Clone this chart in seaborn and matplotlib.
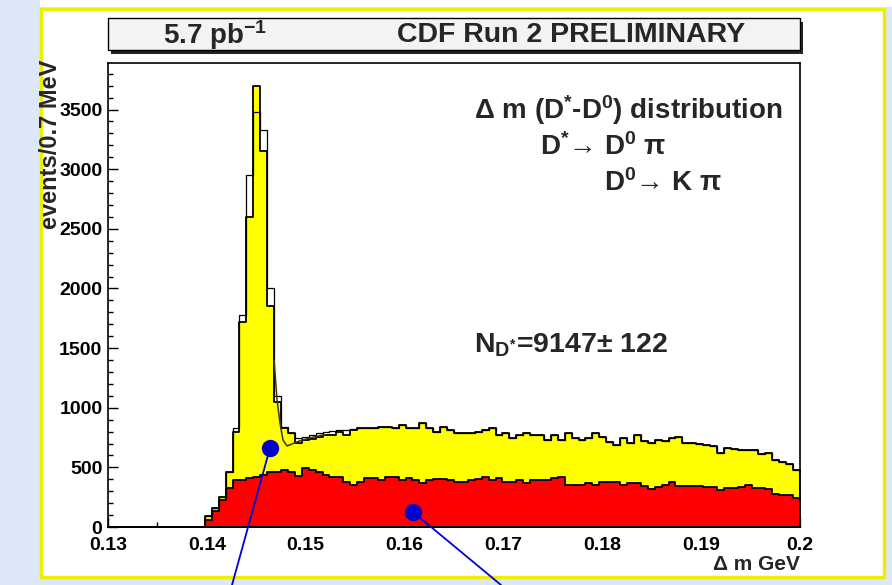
import numpy as np
import pandas as pd
import matplotlib
matplotlib.use("Agg")
import matplotlib.pyplot as plt
from matplotlib.patches import Rectangle
from matplotlib.lines import Line2D
import seaborn as sns

# histogram: 100 bins of 0.7 MeV between 0.13 and 0.2 GeV
n_bins = 100
dm_range = (0.13, 0.2)
bin_edges = np.linspace(dm_range[0], dm_range[1], n_bins + 1)

# right-sign candidates (yellow)
yellow_counts = [0] * 14 + [
    90, 160, 250, 460, 800, 1720, 2600, 3700, 3150, 1850,
    1050, 830, 788, 705, 730, 740, 755, 770, 775, 800,
    772, 814, 828, 828, 830, 842, 835, 828, 856, 828,
    828, 870, 828, 800, 842, 814, 786, 786, 791, 800,
    814, 828, 772, 786, 744, 772, 786, 772, 772, 730,
    772, 730, 791, 744, 730, 744, 791, 758, 716, 688,
    744, 702, 772, 724, 702, 730, 724, 744, 758, 702,
    707, 693, 688, 679, 624, 660, 652, 646, 646, 646,
    613, 624, 560, 545, 525, 480]

# all candidates (open histogram)
white_counts = [0] * 14 + [
    90, 160, 250, 460, 830, 1780, 2950, 3480, 3330, 2000,
    1100, 840, 790, 745, 758, 770, 785, 800, 805, 812,
    815, 820, 828, 828, 830, 842, 835, 828, 856, 828,
    828, 870, 828, 800, 842, 814, 786, 786, 791, 800,
    814, 828, 772, 786, 744, 772, 786, 772, 772, 730,
    772, 730, 791, 744, 730, 744, 791, 758, 716, 688,
    744, 702, 772, 724, 702, 730, 724, 744, 758, 702,
    707, 693, 688, 679, 624, 660, 652, 646, 646, 646,
    613, 624, 560, 545, 525, 480]

# wrong-sign background (red)
red_counts = [0] * 14 + [
    60, 130, 230, 330, 394, 394, 408, 422, 436, 464,
    464, 478, 464, 430, 492, 478, 464, 436, 422, 422,
    380, 352, 380, 408, 408, 394, 422, 422, 394, 408,
    394, 366, 394, 400, 400, 394, 380, 380, 394, 400,
    422, 394, 408, 380, 380, 394, 366, 394, 394, 394,
    408, 415, 352, 352, 352, 366, 352, 380, 380, 380,
    349, 366, 366, 340, 316, 333, 352, 380, 344, 344,
    344, 344, 333, 333, 310, 324, 330, 338, 352, 324,
    324, 316, 275, 268, 265, 240]

# fit curve
fit_x = [0.1468, 0.1471, 0.1474, 0.1477, 0.1481, 0.1484, 0.1489, 0.1495, 0.1502, 0.1510, 0.1520]
fit_y = [1400, 1065, 870, 730, 680, 688, 707, 725, 742, 758, 775]

x_ticks = [0.13, 0.14, 0.15, 0.16, 0.17, 0.18, 0.19, 0.2]
x_tick_labels = ["0.13", "0.14", "0.15", "0.16", "0.17", "0.18", "0.19", "0.2"]
y_ticks = [0, 500, 1000, 1500, 2000, 2500, 3000, 3500]

hist = pd.DataFrame({
    "dm": (bin_edges[:-1] + bin_edges[1:]) / 2,
    "yellow": yellow_counts,
    "white": white_counts,
    "red": red_counts,
})

sns.set_style("white")
plt.rcParams["font.family"] = ["Liberation Sans", "DejaVu Sans"]
plt.rcParams["mathtext.fontset"] = "custom"
plt.rcParams["mathtext.rm"] = "Liberation Sans"
plt.rcParams["mathtext.bf"] = "Liberation Sans:bold"
plt.rcParams["mathtext.it"] = "Liberation Sans:italic"
plt.rcParams["mathtext.default"] = "bf"

W, H = 892, 585
fig = plt.figure(figsize=(W / 100, H / 100), dpi=100)
fig.patch.set_facecolor("white")


def fx(px):
    return px / W


def fy(py):
    return 1 - py / H


# slide background: light blue strips and yellow-framed panel
fig.patches.append(Rectangle((0, 0), fx(40), 1, transform=fig.transFigure,
                             facecolor="#dce8f8", edgecolor="none", zorder=0))
fig.patches.append(Rectangle((0, 0), 1, 1 - fy(578), transform=fig.transFigure,
                             facecolor="#dce8f8", edgecolor="none", zorder=0))
fig.patches.append(Rectangle((fx(41), fy(577)), fx(884) - fx(41), fy(9) - fy(577),
                             transform=fig.transFigure, facecolor="white",
                             edgecolor="#eeee00", linewidth=2.5, zorder=1))

# title box with shadow
fig.patches.append(Rectangle((fx(111), fy(54)), fx(692), fy(18) - fy(50),
                             transform=fig.transFigure, facecolor="#222222",
                             edgecolor="none", zorder=2))
fig.patches.append(Rectangle((fx(108), fy(50)), fx(692), fy(18) - fy(50),
                             transform=fig.transFigure, facecolor="#f3f3f3",
                             edgecolor="black", linewidth=1, zorder=3))
fig.text(fx(163), fy(35), r"5.7 pb$^{\mathbf{-1}}$", fontsize=20, fontweight="bold",
         ha="left", va="center", zorder=4)
fig.text(fx(571), fy(35), "CDF Run 2 PRELIMINARY", fontsize=20.5, fontweight="bold",
         ha="center", va="center", zorder=4)

ax = fig.add_axes([fx(108), fy(527), fx(692), (527 - 63) / H])
ax.set_zorder(5)
ax.set_axisbelow(True)

hist_kws = dict(data=hist, x="dm", bins=n_bins, binrange=dm_range, element="step", ax=ax)
sns.histplot(weights="yellow", fill=True, color="#ffff00", alpha=1,
             edgecolor="black", linewidth=1.3, **hist_kws)
sns.histplot(weights="red", fill=True, color="#ff0000", alpha=1,
             edgecolor="black", linewidth=1.3, **hist_kws)
sns.histplot(weights="white", fill=False, color="black", linewidth=0.9, **hist_kws)
ax.plot(fit_x, fit_y, color="#3a3a00", linewidth=1.1)

ax.set_xlim(0.13, 0.2)
ax.set_ylim(0, 3890)
ax.set_xticks(x_ticks)
ax.set_xticklabels(x_tick_labels)
ax.set_xticks([0.135, 0.145, 0.155, 0.165, 0.175, 0.185, 0.195], minor=True)
ax.set_yticks(y_ticks)
ax.set_yticks(np.arange(0, 3900, 100), minor=True)
ax.tick_params(axis="both", which="both", direction="in", top=False, right=False,
               left=True, bottom=True, width=1, colors="black")
ax.tick_params(axis="both", which="major", length=7, labelsize=14)
ax.tick_params(axis="x", which="major", pad=7)
ax.tick_params(axis="y", which="major", pad=4)
ax.tick_params(axis="both", which="minor", length=3.5)
for lab in ax.get_xticklabels() + ax.get_yticklabels():
    lab.set_fontweight("bold")
for sp in ax.spines.values():
    sp.set_color("black")
    sp.set_linewidth(1.2)
ax.set_xlabel("")
ax.set_ylabel("")

fig.text(fx(51), fy(60), "events/0.7 MeV", rotation=90, fontsize=17, fontweight="bold",
         ha="center", va="top", zorder=6)
fig.text(fx(800), fy(564), "\u0394 m GeV", fontsize=15, fontweight="bold",
         ha="right", va="center", zorder=6)

fig.text(fx(474), fy(110), "\u0394 m (D$^{*}$-D$^{0}$) distribution",
         fontsize=20, fontweight="bold", ha="left", va="center", zorder=6)
fig.text(fx(540), fy(147), "D$^{*}$\u2192 D$^{0}$ \u03c0",
         fontsize=20, fontweight="bold", ha="left", va="center", zorder=6)
fig.text(fx(604), fy(183), "D$^{0}$\u2192 K \u03c0",
         fontsize=20, fontweight="bold", ha="left", va="center", zorder=6)
fig.text(fx(474), fy(345), "N$_{\\mathbf{D}^{*}}$=9147\u00b1 122",
         fontsize=20.5, fontweight="bold", ha="left", va="center", zorder=6)

# blue pointer markers
for (cx, cy), (ex, ey) in [((270, 448), (232, 585)), ((413, 512), (501, 585))]:
    fig.lines.append(Line2D([fx(cx), fx(ex)], [fy(cy), fy(ey)], transform=fig.transFigure,
                            color="#0000dd", linewidth=1.3, zorder=10))
    fig.lines.append(Line2D([fx(cx)], [fy(cy)], transform=fig.transFigure, linestyle="none",
                            marker="o", markersize=12.5, markerfacecolor="#0000cc",
                            markeredgecolor="none", zorder=11))

fig.savefig("out.png", dpi=100)
